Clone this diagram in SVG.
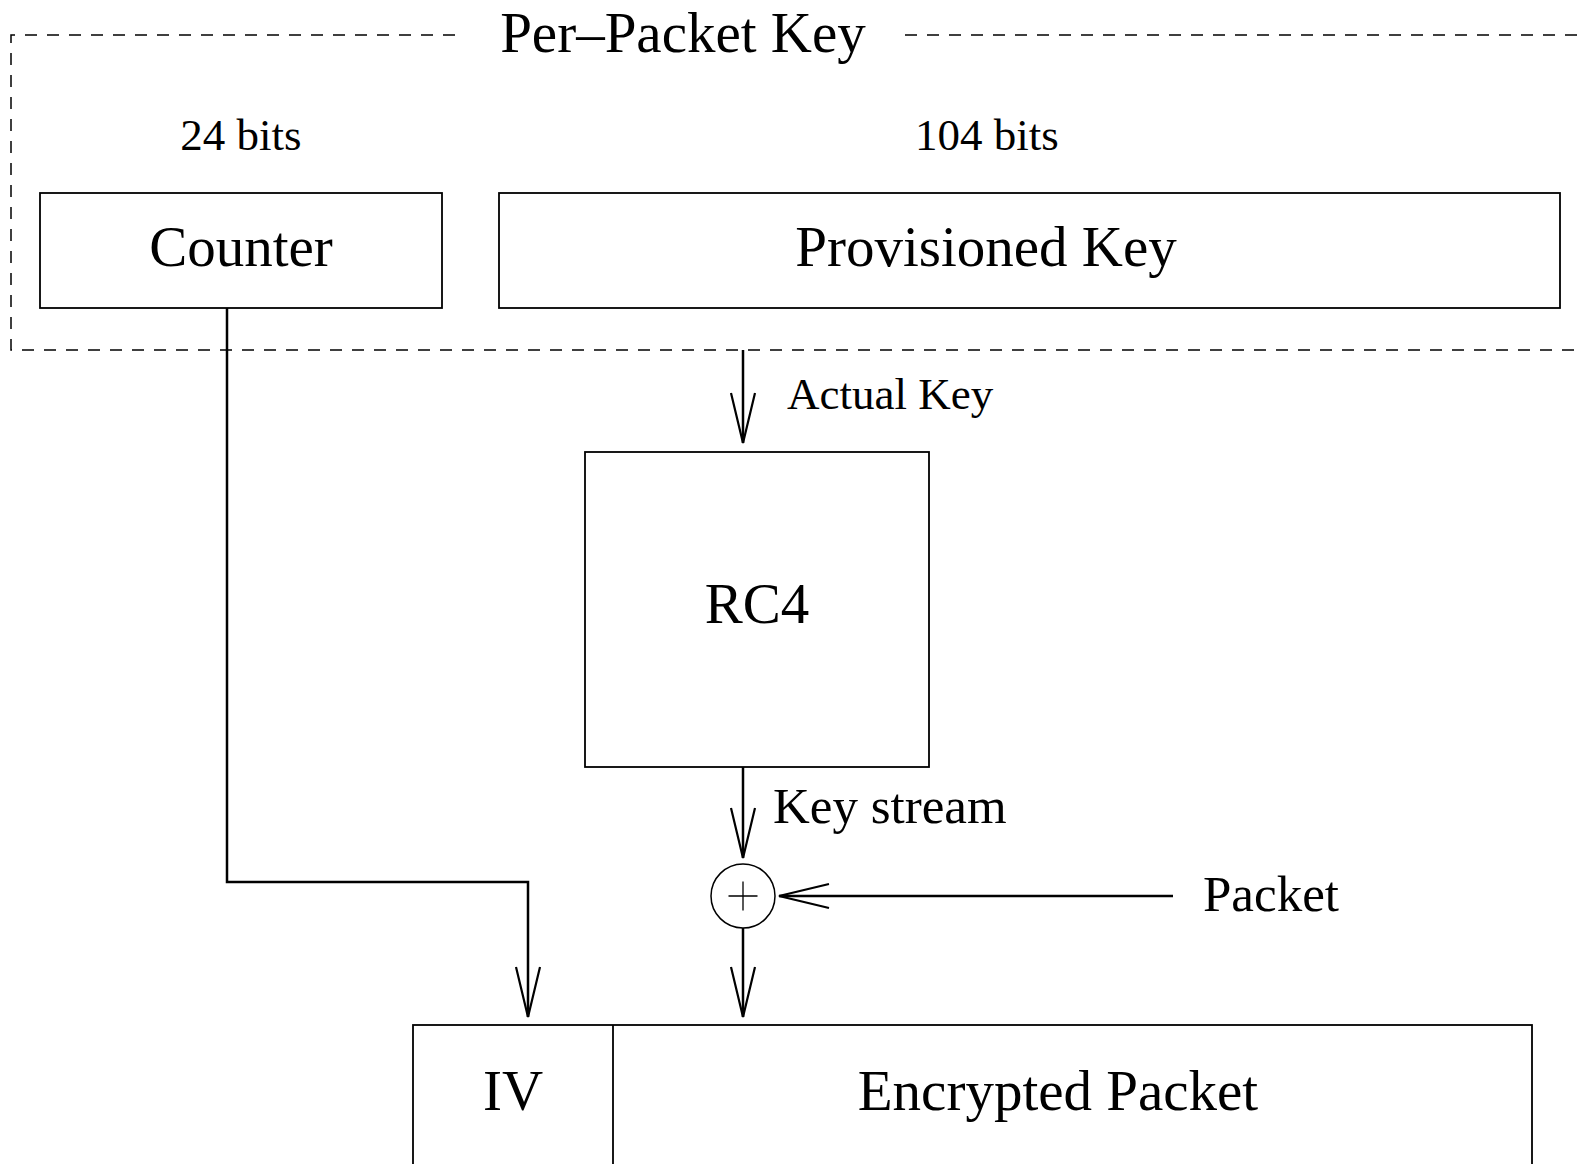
<svg xmlns="http://www.w3.org/2000/svg" width="1579" height="1164" viewBox="0 0 1579 1164">
<style>
text{font-family:"Liberation Serif","Times New Roman",serif;fill:#000}
.box{fill:none;stroke:#000;stroke-width:1.8}
.dash{fill:none;stroke:#000;stroke-width:1.5;stroke-dasharray:12 10}
.conn{fill:none;stroke:#000;stroke-width:2.5}
.big{font-size:57px;text-anchor:middle}
.mid{font-size:51px}
.small{font-size:45px}
</style>
<defs>
<marker id="arr" markerUnits="userSpaceOnUse" viewBox="-54 -15 58 30" refX="0" refY="0" markerWidth="58" markerHeight="30" orient="auto">
<path d="M -50 -12 L 0 0 L -50 12" fill="none" stroke="#000" stroke-width="2.2"/>
</marker>
</defs>
<rect width="1579" height="1164" fill="#fff"/>
<g id="per-packet-key">
<path class="dash" d="M 455 35 H 11 V 350 H 1579"/>
<path class="dash" d="M 905 35 H 1579"/>
<text class="big" x="683" y="52">Per–Packet Key</text>
</g>
<g id="label-24">
<text class="small" x="241" y="150" text-anchor="middle">24 bits</text>
</g>
<g id="label-104">
<text class="small" x="987" y="150" text-anchor="middle">104 bits</text>
</g>
<g id="counter">
<rect class="box" x="40" y="193" width="402" height="115"/>
<text class="big" x="241" y="266">Counter</text>
</g>
<g id="provisioned-key">
<rect class="box" x="499" y="193" width="1061" height="115"/>
<text class="big" x="986" y="266">Provisioned Key</text>
</g>
<g id="rc4">
<rect class="box" x="585" y="452" width="344" height="315"/>
<text class="big" x="757" y="623">RC4</text>
</g>
<g id="xor">
<circle cx="743" cy="896" r="32" fill="none" stroke="#000" stroke-width="1.5"/>
<path d="M 728.5 896 H 757.5 M 743 881.5 V 910.5" stroke="#000" stroke-width="1.3"/>
</g>
<g id="output">
<rect class="box" x="413" y="1025" width="1119" height="160"/>
<line x1="613" y1="1025" x2="613" y2="1164" stroke="#000" stroke-width="1.8"/>
<text class="big" x="513" y="1110">IV</text>
<text class="big" x="1058" y="1110">Encrypted Packet</text>
</g>
<g id="connectors">
<path class="conn" d="M 227 308 V 882 H 528 V 1017" marker-end="url(#arr)"/>
<path class="conn" d="M 743 350 V 443" marker-end="url(#arr)"/>
<path class="conn" d="M 743 767 V 858" marker-end="url(#arr)"/>
<path class="conn" d="M 743 928 V 1017" marker-end="url(#arr)"/>
<path class="conn" d="M 1173 896 H 779" marker-end="url(#arr)"/>
</g>
<g id="labels">
<text class="small" x="787" y="409">Actual Key</text>
<text class="mid" x="773" y="823">Key stream</text>
<text class="mid" x="1203" y="911">Packet</text>
</g>
</svg>
